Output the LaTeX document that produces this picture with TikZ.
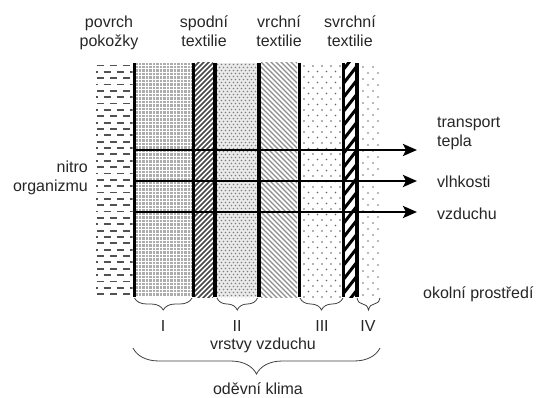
\documentclass[tikz,border=0pt]{standalone}
\usepackage{fontspec}
\setmainfont{Liberation Sans}
\usetikzlibrary{arrows.meta,decorations.pathreplacing}
\begin{document}
\begin{tikzpicture}[x=1pt,y=-1pt,
  lbl/.style={font=\fontsize{16}{19}\selectfont, text=black!85, inner sep=0pt},
  wall/.style={line width=3.5pt},
  flow/.style={line width=2.5pt, -{Stealth[length=14pt,width=12pt,inset=3pt]}},
  brc/.style={decorate, decoration={brace,amplitude=#1,mirror}, line width=0.8pt, draw=black!75},
  dotc/.style={fill=#1},
]
\useasboundingbox (0,0) rectangle (538,398);

% --- skin: staggered short dashes
\begin{scope}
  \clip (96,63) rectangle (132.5,297);
  \foreach \r in {0,...,36} {
    \pgfmathsetmacro{\yy}{65.5+6.35*\r}
    \pgfmathsetmacro{\off}{mod(\r,2)*6.5}
    \foreach \c in {-1,0,1,2} {
      \draw[line width=1.8pt, black!68] ({97+\off+13*\c},\yy) -- ++(7,0);
    }
  }
\end{scope}

% --- air layer I: grey fine grid
\begin{scope}
  \clip (136,63) rectangle (192,297);
  \fill[black!32] (136,63) rectangle (192,297);
  \foreach \x in {138,141.5,...,192} \draw[white, line width=0.9pt] (\x,63) -- (\x,297);
  \foreach \y in {65,68.5,...,297} \draw[white, line width=0.7pt] (136,\y) -- (192,\y);
\end{scope}

% --- lower textile: dense dark hatch
\begin{scope}
  \clip (195,63) rectangle (213,297);
  \foreach \k in {0,...,52} \draw[black!72, line width=1.6pt] (193,{63+5*\k}) -- ++(24,-24);
\end{scope}

% --- air layer II: dense dots
\begin{scope}
  \clip (217,63) rectangle (257,297);
  \fill[black!8] (217,63) rectangle (257,297);
  \foreach \r in {0,...,78} {
    \pgfmathsetmacro{\yy}{64.5+3*\r}
    \pgfmathsetmacro{\off}{mod(\r,2)*2}
    \foreach \c in {0,...,10} \fill[black!50] ({217.5+\off+4*\c},\yy) circle (0.8);
  }
\end{scope}

% --- upper textile: grey back hatch
\begin{scope}
  \clip (261,63) rectangle (297,297);
  \foreach \k in {0,...,56} \draw[black!45, line width=1.4pt] (259,{20+5*\k}) -- ++(42,42);
\end{scope}

% --- air layer III: sparse dots
\begin{scope}
  \clip (302,63) rectangle (342,297);
  \foreach \r in {0,...,42} {
    \pgfmathsetmacro{\yy}{66+5.5*\r}
    \pgfmathsetmacro{\off}{mod(\r,2)*4.5}
    \foreach \c in {0,...,4} \fill[black!60] ({304+\off+9*\c},\yy) circle (0.85);
  }
\end{scope}

% --- outer textile: bold slanted stripes
\begin{scope}
  \clip (345,63) rectangle (355.5,297);
  \foreach \k in {0,...,19} \draw[black, line width=3pt] (343,{70+14*\k}) -- ++(14,-18);
\end{scope}

% --- air layer IV: very sparse dots
\begin{scope}
  \clip (358,63) rectangle (381,297);
  \foreach \r in {0,...,38} {
    \pgfmathsetmacro{\yy}{67+6*\r}
    \pgfmathsetmacro{\off}{mod(\r,2)*5}
    \foreach \c in {0,1} \fill[black!55] ({363+\off+10*\c},\yy) circle (0.8);
  }
\end{scope}

% --- layer boundaries
\foreach \x in {134.5,193.5,215,259,299.5,343.5,357} \draw[wall] (\x,63) -- (\x,297);

% --- flows
\coordinate (ts) at (134,150); \coordinate (te) at (417,150);
\coordinate (vs) at (134,181); \coordinate (ve) at (417,181);
\coordinate (zs) at (134,212); \coordinate (ze) at (417,212);
\draw[flow] (ts) -- (te);
\draw[flow] (vs) -- (ve);
\draw[flow] (zs) -- (ze);

% --- headings
\node[lbl, anchor=base] (povrch) at (109,28) {povrch};
\node[lbl, anchor=base] (pokozky) at (109,47) {pokožky};
\node[lbl, anchor=base] (spodni) at (204,28) {spodní};
\node[lbl, anchor=base] (spodnit) at (204,47) {textilie};
\node[lbl, anchor=base] (vrchni) at (279,28) {vrchní};
\node[lbl, anchor=base] (vrchnit) at (279,47) {textilie};
\node[lbl, anchor=base] (svrchni) at (350,28) {svrchní};
\node[lbl, anchor=base] (svrchnit) at (350,47) {textilie};

\node[lbl, anchor=base east] (nitro) at (88,173) {nitro};
\node[lbl, anchor=base east] (organizmu) at (88,192) {organizmu};

\node[lbl, anchor=base west] (transport) at (437,128) {transport};
\node[lbl, anchor=base west] (tepla) at (437,147) {tepla};
\node[lbl, anchor=base west] (vlhkosti) at (437,188) {vlhkosti};
\node[lbl, anchor=base west] (vzduchu) at (437,219) {vzduchu};
\node[lbl, anchor=base west] (okolni) at (423,298) {okolní prostředí};

% --- air layer braces
\draw[brc=12pt] (134.5,298) -- (192,298);
\draw[brc=12pt] (217,298) -- (257.5,298);
\draw[brc=12pt] (300,298) -- (343,298);
\draw[brc=12pt] (357,298) -- (380,298);
\node[lbl, anchor=base] (l1) at (163,331) {I};
\node[lbl, anchor=base] (l2) at (237,331) {II};
\node[lbl, anchor=base] (l3) at (322,331) {III};
\node[lbl, anchor=base] (l4) at (368,331) {IV};
\node[lbl, anchor=base] (vrstvy) at (263,349) {vrstvy vzduchu};

\draw[brc=26pt] (133,348) -- (380,348);
\node[lbl, anchor=base] (klima) at (258,394) {oděvní klima};
\end{tikzpicture}
\end{document}
